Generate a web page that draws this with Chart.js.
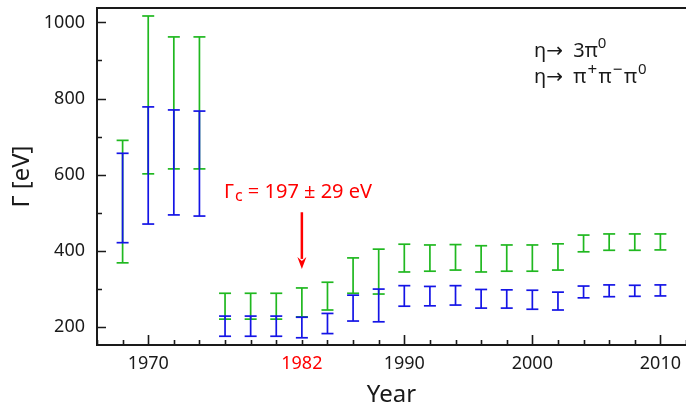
<!DOCTYPE html>
<html>
<head>
<meta charset="utf-8">
<script src="https://cdn.jsdelivr.net/npm/chart.js@4.4.1/dist/chart.umd.min.js"></script>
<style>
html, body { margin: 0; padding: 0; background: #fff; }
</style>
</head>
<body>
<canvas id="gammaChart" width="686" height="405"></canvas>
<script>
// years of the measurements
const years = [1968, 1970, 1972, 1974, 1976, 1978, 1980, 1982, 1984, 1986, 1988,
               1990, 1992, 1994, 1996, 1998, 2000, 2002, 2004, 2006, 2008, 2010];

// eta -> 3pi0 (green), lower and upper ends of the error bar
const neutralLo = [368, 602, 615, 615, 220, 220, 220, 226, 244, 288, 286,
                   344, 346, 349, 344, 346, 346, 349, 397, 401, 401, 402];
const neutralHi = [690, 1017, 962, 962, 288, 288, 288, 302, 317, 381, 404,
                   417, 415, 416, 413, 415, 415, 418, 441, 444, 444, 444];

// eta -> pi+ pi- pi0 (blue)
const chargedLo = [421, 470, 494, 491, 175, 175, 175, 171, 182, 215, 213,
                   254, 255, 257, 249, 249, 246, 244, 276, 279, 280, 281];
const chargedHi = [656, 778, 770, 767, 228, 228, 228, 225, 235, 283, 299,
                   308, 306, 308, 298, 297, 296, 291, 307, 310, 309, 310];

// axis ticks
const xTickValues = [1966, 1968, 1970, 1972, 1974, 1976, 1978, 1980, 1982, 1984, 1986, 1988,
                     1990, 1992, 1994, 1996, 1998, 2000, 2002, 2004, 2006, 2008, 2010, 2012];
const xTickLabels = [1970, 1982, 1990, 2000, 2010];
const xMajorTicks = [1970, 1990, 2000, 2010];
const yTickValues = [200, 300, 400, 500, 600, 700, 800, 900, 1000];
const yTickLabels = [200, 400, 600, 800, 1000];

// arrow of the Gamma_c annotation (from, to)
const arrowYear = 1982;
const arrowFrom = 501;
const arrowTo = 352;

const FONT = "'Noto Sans', 'DejaVu Sans', sans-serif";
const GREEN = '#20b820';
const BLUE = '#1414e6';
const RED = '#ff0000';
const INK = '#1a1a1a';

function errorBarPoints(lo, hi){ // lo, hi and a gap after every bar
    return years.flatMap((yr, i) => [{x: yr, y: lo[i]}, {x: yr, y: hi[i]}, {x: yr, y: null}]);
}

function errorBarSet(label, lo, hi, color, order){
    return {
        label: label,
        data: errorBarPoints(lo, hi),
        showLine: true,
        spanGaps: false,
        borderColor: color,
        borderWidth: 1.7,
        pointStyle: 'line',
        pointRadius: 6,
        pointHoverRadius: 6,
        pointBorderWidth: 1.7,
        pointBorderColor: color,
        pointBackgroundColor: color,
        order: order
    };
}

// draws text pieces one after another, sup/sub shifted
function drawRich(ctx, x, y, parts){
    parts.forEach(function(p){
        const size = p.size || 20;
        ctx.font = size + 'px ' + FONT;
        ctx.fillText(p.t, x, y + (p.dy || 0));
        x += ctx.measureText(p.t).width + (p.gap || 0);
    });
}

const framePlugin = {
    id: 'frame',
    afterDatasetsDraw(chart){
        const ctx = chart.ctx;
        const a = chart.chartArea;
        const xs = chart.scales.x, ys = chart.scales.y;
        ctx.save();
        // frame
        ctx.strokeStyle = INK;
        ctx.lineWidth = 2;
        ctx.beginPath();
        ctx.moveTo(a.right, a.top);
        ctx.lineTo(a.left, a.top);
        ctx.lineTo(a.left, a.bottom);
        ctx.lineTo(a.right, a.bottom);
        ctx.stroke();
        // inward ticks
        ctx.lineWidth = 1.6;
        ctx.beginPath();
        xTickValues.forEach(function(v){
            const px = Math.round(xs.getPixelForValue(v)) + 0.5;
            const len = xMajorTicks.includes(v) ? 10 : 5;
            ctx.moveTo(px, a.bottom);
            ctx.lineTo(px, a.bottom - len);
        });
        yTickValues.forEach(function(v){
            const py = Math.round(ys.getPixelForValue(v)) + 0.5;
            const len = yTickLabels.includes(v) ? 9 : 5;
            ctx.moveTo(a.left, py);
            ctx.lineTo(a.left + len, py);
        });
        ctx.stroke();

        // arrow Gamma_c
        const ax = xs.getPixelForValue(arrowYear);
        const ay0 = ys.getPixelForValue(arrowFrom);
        const ay1 = ys.getPixelForValue(arrowTo);
        ctx.strokeStyle = RED;
        ctx.fillStyle = RED;
        ctx.lineWidth = 2.5;
        ctx.beginPath();
        ctx.moveTo(ax, ay0);
        ctx.lineTo(ax, ay1 - 10);
        ctx.stroke();
        ctx.beginPath();
        ctx.moveTo(ax - 4.5, ay1 - 12);
        ctx.lineTo(ax, ay1);
        ctx.lineTo(ax + 4.5, ay1 - 12);
        ctx.lineTo(ax, ay1 - 8);
        ctx.closePath();
        ctx.fill();

        ctx.textBaseline = 'alphabetic';
        ctx.textAlign = 'left';
        drawRich(ctx, 224, 198, [
            {t: 'Γ', size: 20, gap: 1},
            {t: 'c', size: 16, dy: 3},
            {t: ' = 197 ± 29 eV', size: 20}
        ]);

        // legend text
        ctx.fillStyle = INK;
        drawRich(ctx, 534, 57, [
            {t: 'η→  3π'},
            {t: '0', size: 15, dy: -9}
        ]);
        drawRich(ctx, 534, 83, [
            {t: 'η→  π', gap: 1},
            {t: '+', size: 17, dy: -8, gap: 1.5},
            {t: 'π', gap: 1},
            {t: '−', size: 17, dy: -8, gap: 1.5},
            {t: 'π', gap: 1},
            {t: '0', size: 15, dy: -9}
        ]);
        ctx.restore();
    }
};

const config = {
    type: 'scatter',
    data: {
        datasets: [
            errorBarSet('η → π+π−π0', chargedLo, chargedHi, BLUE, 1),
            errorBarSet('η → 3π0', neutralLo, neutralHi, GREEN, 2)
        ]
    },
    options: {
        responsive: false,
        animation: false,
        devicePixelRatio: 1,
        layout: { autoPadding: false, padding: { top: 8, right: 0, left: 0, bottom: 0 } },
        plugins: { legend: { display: false }, tooltip: { enabled: false } },
        events: [],
        scales: {
            x: {
                type: 'linear',
                min: 1966,
                max: 2012,
                afterBuildTicks: scale => { scale.ticks = xTickValues.map(v => ({value: v})); },
                afterFit: scale => {
                    scale.height = 60;
                    scale.paddingLeft = 0;
                    scale.paddingRight = 0;
                },
                grid: { display: false, drawTicks: false },
                border: { display: false },
                ticks: {
                    autoSkip: false,
                    maxRotation: 0,
                    padding: 8,
                    font: { family: FONT, size: 18 },
                    color: ctx => (ctx.tick && ctx.tick.value === 1982) ? RED : INK,
                    callback: v => xTickLabels.includes(v) ? String(v) : ''
                },
                title: {
                    display: true,
                    text: 'Year',
                    color: INK,
                    font: { family: FONT, size: 24, lineHeight: 0.8 },
                    padding: { top: 0, bottom: 0 }
                }
            },
            y: {
                type: 'linear',
                min: 152,
                max: 1038,
                afterBuildTicks: scale => { scale.ticks = yTickValues.map(v => ({value: v})); },
                afterFit: scale => {
                    scale.width = 97;
                    scale.paddingTop = 0;
                    scale.paddingBottom = 0;
                },
                grid: { display: false, drawTicks: false },
                border: { display: false },
                ticks: {
                    autoSkip: false,
                    padding: 12,
                    font: { family: FONT, size: 18 },
                    color: INK,
                    callback: v => yTickLabels.includes(v) ? String(v) : ''
                },
                title: {
                    display: true,
                    text: 'Γ [eV]',
                    color: INK,
                    font: { family: FONT, size: 24, lineHeight: 0.8 },
                    padding: { top: 13, bottom: 0 }
                }
            }
        }
    },
    plugins: [framePlugin]
};

const gammaChart = new Chart(document.getElementById('gammaChart'), config);
</script>
</body>
</html>
